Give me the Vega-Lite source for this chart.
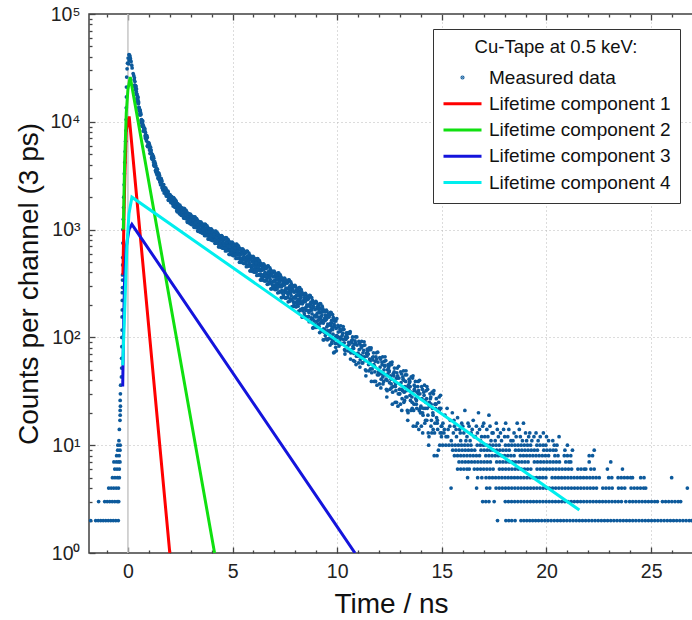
{
"$schema":"https://vega.github.io/schema/vega-lite/v6.json",
"width":604,"height":539,
"autosize":{"type":"none"},
"padding":{"left":89,"top":14,"right":0,"bottom":67},
"background":"white",
"config":{"view":{"stroke":"#404040","strokeWidth":1.5},"font":"Liberation Sans"},
"datasets":{
"pts":[
{"t":-1.78,"c":2},{"t":-1.54,"c":2},{"t":-1.42,"c":2},{"t":-1.3,"c":2},{"t":-1.18,"c":2},{"t":-1.06,"c":2},{"t":-0.94,"c":2},{"t":-0.82,"c":2},{"t":-0.7,"c":2},{"t":-0.58,"c":2},{"t":-0.46,"c":2},
{"t":-1.4,"c":3},{"t":-1.11,"c":3},{"t":-0.99,"c":3},{"t":-0.87,"c":3},{"t":-0.75,"c":3},{"t":-0.63,"c":3},{"t":-0.51,"c":3},{"t":-0.44,"c":3},
{"t":-0.92,"c":4},{"t":-0.8,"c":4},{"t":-0.68,"c":4},{"t":-0.56,"c":4},{"t":-0.45,"c":4},
{"t":-0.74,"c":5},{"t":-0.62,"c":5},{"t":-0.5,"c":5},{"t":-0.41,"c":5},
{"t":-0.63,"c":6},{"t":-0.52,"c":6},{"t":-0.41,"c":6},
{"t":-0.67,"c":7},{"t":-0.55,"c":7},{"t":-0.45,"c":7},{"t":-0.38,"c":7},
{"t":-0.54,"c":8},{"t":-0.42,"c":8},{"t":-0.49,"c":9},{"t":-0.38,"c":9},{"t":-0.48,"c":10},{"t":-0.37,"c":10},
{"t":-0.43,"c":11},{"t":-0.41,"c":14},{"t":-0.38,"c":17},{"t":-0.37,"c":19},{"t":-0.37,"c":21},{"t":-0.36,"c":23},{"t":-0.37,"c":26},{"t":-0.36,"c":30},{"t":-0.35,"c":36},
{"t":-0.31,"c":43},{"t":-0.3,"c":52},{"t":-0.3,"c":64},{"t":-0.29,"c":82},{"t":-0.29,"c":100},{"t":-0.28,"c":117},{"t":-0.28,"c":155},{"t":-0.27,"c":180},{"t":-0.27,"c":220},{"t":-0.27,"c":260},{"t":-0.26,"c":290},{"t":-0.26,"c":340},{"t":-0.26,"c":380},{"t":-0.25,"c":470},{"t":-0.25,"c":550},{"t":-0.24,"c":750},{"t":-0.24,"c":1000},{"t":-0.22,"c":1250},{"t":-0.21,"c":1600},{"t":-0.2,"c":2000},{"t":-0.18,"c":2600},{"t":-0.17,"c":3300},{"t":-0.15,"c":4200},{"t":-0.13,"c":5300},{"t":-0.11,"c":6600},{"t":-0.09,"c":8300},{"t":-0.08,"c":10500},{"t":-0.08,"c":13500},{"t":-0.07,"c":17000},{"t":-0.07,"c":21000},{"t":-0.06,"c":26000},{"t":-0.04,"c":31000},{"t":-0.02,"c":35000},{"t":0.01,"c":39000},{"t":0.05,"c":42000},{"t":0.08,"c":41500},{"t":0.1,"c":40000},{"t":0.06,"c":37000},{"t":0.03,"c":34500},{"t":0.12,"c":38500},
{"t":0.15,"c":36300},{"t":0.2,"c":31600},{"t":0.25,"c":28000},{"t":0.3,"c":24500},{"t":0.35,"c":21700},{"t":0.4,"c":19100},{"t":0.45,"c":16900},{"t":0.5,"c":14800},{"t":0.55,"c":12900},{"t":0.6,"c":11600},{"t":0.65,"c":10500},{"t":0.7,"c":9660},{"t":0.75,"c":8900},{"t":0.8,"c":8220},{"t":0.85,"c":7590},{"t":0.9,"c":7030},{"t":0.95,"c":6460},{"t":1.0,"c":6030},{"t":1.05,"c":5580},{"t":1.1,"c":5160},{"t":1.15,"c":4790},{"t":1.2,"c":4470},{"t":1.25,"c":4170},{"t":1.3,"c":3860},{"t":1.35,"c":3600},{"t":1.4,"c":3390},{"t":1.45,"c":3210},{"t":1.5,"c":3030},{"t":1.55,"c":2870},{"t":1.6,"c":2720},{"t":1.65,"c":2570},{"t":1.7,"c":2450},{"t":1.75,"c":2370},{"t":1.8,"c":2280},{"t":1.85,"c":2200},{"t":1.9,"c":2120},{"t":1.95,"c":2040},{"t":2.0,"c":1960},
{"t":0.18,"c":33500},{"t":0.28,"c":26800},{"t":0.38,"c":20500},{"t":0.48,"c":15900},{"t":0.58,"c":12000},{"t":0.68,"c":10200},{"t":0.78,"c":8400},{"t":0.88,"c":7400},{"t":0.98,"c":6100},{"t":1.08,"c":5450},{"t":1.18,"c":4700},{"t":1.28,"c":4050},{"t":1.38,"c":3520},{"t":1.48,"c":3080},{"t":1.58,"c":2820},{"t":1.68,"c":2480},{"t":1.78,"c":2280},{"t":1.88,"c":2180},{"t":1.98,"c":1930},
{"t":0.32,"c":21860},{"t":0.37,"c":21580},{"t":0.42,"c":17840},{"t":0.47,"c":17120},{"t":0.52,"c":13520},{"t":0.57,"c":12560},{"t":0.62,"c":11660},{"t":0.67,"c":9260},{"t":0.72,"c":9230},{"t":0.77,"c":8780},{"t":0.82,"c":7420},{"t":0.87,"c":7150},{"t":0.92,"c":7180},{"t":0.97,"c":5970},{"t":1.02,"c":6080},{"t":1.07,"c":5100},{"t":1.12,"c":5120},{"t":1.17,"c":4980},{"t":1.22,"c":4230},{"t":1.27,"c":4000},{"t":1.32,"c":3550},{"t":1.37,"c":3690},{"t":1.42,"c":3260},{"t":1.47,"c":3350},{"t":1.52,"c":2850},{"t":1.57,"c":2880},{"t":1.62,"c":2810},{"t":1.67,"c":2330},{"t":1.72,"c":2410},{"t":1.77,"c":2410},{"t":1.82,"c":2120},{"t":1.87,"c":2130},{"t":1.92,"c":2230},{"t":1.97,"c":1940},
{"t":0.335,"c":23590},{"t":0.385,"c":18490},{"t":0.435,"c":18100},{"t":0.485,"c":14740},{"t":0.535,"c":13620},{"t":0.585,"c":12650},{"t":0.635,"c":10350},{"t":0.685,"c":9050},{"t":0.735,"c":9230},{"t":0.785,"c":8300},{"t":0.835,"c":7980},{"t":0.885,"c":6660},{"t":0.935,"c":5940},{"t":0.985,"c":6040},{"t":1.035,"c":6090},{"t":1.085,"c":5310},{"t":1.135,"c":4650},{"t":1.185,"c":4740},{"t":1.235,"c":4600},{"t":1.285,"c":3890},{"t":1.335,"c":3910},{"t":1.385,"c":3220},{"t":1.435,"c":3380},{"t":1.485,"c":2940},{"t":1.535,"c":2930},{"t":1.585,"c":2960},{"t":1.635,"c":2550},{"t":1.685,"c":2330},{"t":1.735,"c":2460},{"t":1.785,"c":2320},{"t":1.835,"c":2330},{"t":1.885,"c":2030},{"t":1.935,"c":1880},{"t":1.985,"c":2010},
{"t":0.31,"c":25560},{"t":0.36,"c":19890},{"t":0.41,"c":20110},{"t":0.46,"c":15320},{"t":0.51,"c":15300},{"t":0.56,"c":11570},{"t":0.61,"c":12100},{"t":0.66,"c":9730},{"t":0.71,"c":10170},{"t":0.76,"c":8160},{"t":0.81,"c":8580},{"t":0.86,"c":6960},{"t":0.91,"c":7400},{"t":0.96,"c":5860},{"t":1.01,"c":6330},{"t":1.06,"c":5080},{"t":1.11,"c":5470},{"t":1.16,"c":4500},{"t":1.21,"c":4780},{"t":1.26,"c":3880},{"t":1.31,"c":4090},{"t":1.36,"c":3350},{"t":1.41,"c":3620},{"t":1.46,"c":2960},{"t":1.51,"c":3180},{"t":1.56,"c":2610},{"t":1.61,"c":2880},{"t":1.66,"c":2420},{"t":1.71,"c":2620},{"t":1.76,"c":2210},{"t":1.81,"c":2420},{"t":1.86,"c":2050},{"t":1.91,"c":2270},{"t":1.96,"c":1880},
{"t":0.33,"c":21080},{"t":0.38,"c":21280},{"t":0.43,"c":16250},{"t":0.48,"c":16730},{"t":0.53,"c":12870},{"t":0.58,"c":12890},{"t":0.63,"c":9980},{"t":0.68,"c":10200},{"t":0.73,"c":8220},{"t":0.78,"c":8730},{"t":0.83,"c":7070},{"t":0.88,"c":7440},{"t":0.93,"c":5980},{"t":0.98,"c":6390},{"t":1.03,"c":5470},{"t":1.08,"c":5820},{"t":1.13,"c":4630},{"t":1.18,"c":4850},{"t":1.23,"c":3970},{"t":1.28,"c":4270},{"t":1.33,"c":3460},{"t":1.38,"c":3680},{"t":1.43,"c":3010},{"t":1.48,"c":3310},{"t":1.53,"c":2750},{"t":1.58,"c":2990},{"t":1.63,"c":2440},{"t":1.68,"c":2600},{"t":1.73,"c":2180},{"t":1.78,"c":2420},{"t":1.83,"c":2050},{"t":1.88,"c":2250},{"t":1.93,"c":1880},{"t":1.98,"c":2110},
{"t":2.05,"c":1924},{"t":2.1,"c":1806},{"t":2.15,"c":1851},{"t":2.2,"c":1745},{"t":2.25,"c":1793},{"t":2.3,"c":1664},{"t":2.35,"c":1553},{"t":2.4,"c":1618},{"t":2.45,"c":1597},{"t":2.5,"c":1473},
{"t":2.55,"c":1482},{"t":2.6,"c":1534},{"t":2.65,"c":1365},{"t":2.7,"c":1413},{"t":2.75,"c":1364},{"t":2.8,"c":1302},{"t":2.85,"c":1369},{"t":2.9,"c":1203},{"t":2.95,"c":1297},{"t":3.0,"c":1220},
{"t":3.05,"c":1233},{"t":3.1,"c":1156},{"t":3.15,"c":1211},{"t":3.2,"c":1143},{"t":3.25,"c":1199},{"t":3.3,"c":1112},{"t":3.35,"c":1037},{"t":3.4,"c":1106},{"t":3.45,"c":1103},{"t":3.5,"c":1017},
{"t":3.55,"c":1033},{"t":3.6,"c":1083},{"t":3.65,"c":950},{"t":3.7,"c":997},{"t":3.75,"c":963},{"t":3.8,"c":920},{"t":3.85,"c":982},{"t":3.9,"c":850},{"t":3.95,"c":936},{"t":4.0,"c":877},
{"t":4.05,"c":892},{"t":4.1,"c":832},{"t":4.15,"c":882},{"t":4.2,"c":828},{"t":4.25,"c":880},{"t":4.3,"c":810},{"t":4.35,"c":750},{"t":4.4,"c":812},{"t":4.45,"c":814},{"t":4.5,"c":744},
{"t":4.55,"c":760},{"t":4.6,"c":807},{"t":4.65,"c":693},{"t":4.7,"c":738},{"t":4.75,"c":711},{"t":4.8,"c":675},{"t":4.85,"c":732},{"t":4.9,"c":620},{"t":4.95,"c":696},{"t":5.0,"c":648},
{"t":5.05,"c":663},{"t":5.1,"c":611},{"t":5.15,"c":658},{"t":5.2,"c":612},{"t":5.25,"c":660},{"t":5.3,"c":599},{"t":5.35,"c":548},{"t":5.4,"c":605},{"t":5.45,"c":608},{"t":5.5,"c":548},
{"t":5.55,"c":562},{"t":5.6,"c":601},{"t":5.65,"c":505},{"t":5.7,"c":542},{"t":5.75,"c":519},{"t":5.8,"c":489},{"t":5.85,"c":536},{"t":5.9,"c":442},{"t":5.95,"c":506},{"t":6.0,"c":465},
{"t":6.05,"c":479},{"t":6.1,"c":435},{"t":6.15,"c":475},{"t":6.2,"c":437},{"t":6.25,"c":477},{"t":6.3,"c":427},{"t":6.35,"c":384},{"t":6.4,"c":432},{"t":6.45,"c":435},{"t":6.5,"c":385},
{"t":6.55,"c":398},{"t":6.6,"c":434},{"t":6.65,"c":354},{"t":6.7,"c":386},{"t":6.75,"c":369},{"t":6.8,"c":344},{"t":6.85,"c":387},{"t":6.9,"c":307},{"t":6.95,"c":364},{"t":7.0,"c":330},
{"t":7.05,"c":342},{"t":7.1,"c":308},{"t":7.15,"c":343},{"t":7.2,"c":312},{"t":7.25,"c":347},{"t":7.3,"c":306},{"t":7.35,"c":271},{"t":7.4,"c":313},{"t":7.45,"c":316},{"t":7.5,"c":275},
{"t":7.55,"c":287},{"t":7.6,"c":318},{"t":7.65,"c":251},{"t":7.7,"c":279},{"t":7.75,"c":265},{"t":7.8,"c":244},{"t":7.85,"c":281},{"t":7.9,"c":215},{"t":7.95,"c":263},{"t":8.0,"c":235},
{"t":8.05,"c":245},{"t":8.1,"c":216},{"t":8.15,"c":245},{"t":8.2,"c":220},{"t":8.25,"c":249},{"t":8.3,"c":214},{"t":8.35,"c":186},{"t":8.4,"c":221},{"t":8.45,"c":224},{"t":8.5,"c":190},
{"t":8.55,"c":200},{"t":8.6,"c":225},{"t":8.65,"c":170},{"t":8.7,"c":193},{"t":8.75,"c":182},{"t":8.8,"c":165},{"t":8.85,"c":196},{"t":8.9,"c":142},{"t":8.95,"c":181},{"t":9.0,"c":160},
{"t":9.05,"c":168},{"t":9.1,"c":145},{"t":9.15,"c":169},{"t":9.2,"c":148},{"t":9.25,"c":172},{"t":9.3,"c":144},{"t":9.35,"c":120},{"t":9.4,"c":150},{"t":9.45,"c":153},{"t":9.5,"c":125},
{"t":9.55,"c":133},{"t":9.6,"c":154},{"t":9.65,"c":110},{"t":9.7,"c":129},{"t":9.75,"c":121},{"t":9.8,"c":107},{"t":9.85,"c":133},{"t":9.9,"c":88},{"t":9.95,"c":121},{"t":10.0,"c":103},
{"t":10.05,"c":112},{"t":10.1,"c":93},{"t":10.15,"c":114},{"t":10.2,"c":97},{"t":10.25,"c":118},{"t":10.3,"c":96},{"t":10.35,"c":77},{"t":10.4,"c":101},{"t":10.45,"c":105},{"t":10.5,"c":83},
{"t":10.55,"c":90},{"t":10.6,"c":109},{"t":10.65,"c":72},{"t":10.7,"c":89},{"t":10.75,"c":82},{"t":10.8,"c":71},{"t":10.85,"c":93},{"t":10.9,"c":56},{"t":10.95,"c":85},{"t":11.0,"c":71},
{"t":11.05,"c":77},{"t":11.1,"c":62},{"t":11.15,"c":80},{"t":11.2,"c":66},{"t":11.25,"c":84},{"t":11.3,"c":66},{"t":11.35,"c":50},{"t":11.4,"c":71},{"t":11.45,"c":74},{"t":11.5,"c":56},
{"t":11.55,"c":63},{"t":11.6,"c":77},{"t":11.65,"c":47},{"t":11.7,"c":62},{"t":11.75,"c":56},{"t":11.8,"c":48},{"t":11.85,"c":66},{"t":11.9,"c":36},{"t":11.95,"c":59},{"t":12.0,"c":47},
{"t":12.05,"c":53},{"t":12.1,"c":41},{"t":12.15,"c":56},{"t":12.2,"c":46},{"t":12.25,"c":60},{"t":12.3,"c":45},{"t":12.35,"c":33},{"t":12.4,"c":50},{"t":12.45,"c":52},{"t":12.5,"c":38},
{"t":12.55,"c":44},{"t":12.6,"c":56},{"t":12.65,"c":31},{"t":12.7,"c":44},{"t":12.75,"c":39},{"t":12.8,"c":32},{"t":12.85,"c":47},{"t":12.9,"c":23},{"t":12.95,"c":42},{"t":13.0,"c":33},
{"t":13.05,"c":38},{"t":13.1,"c":27},{"t":13.15,"c":41},{"t":13.2,"c":31},{"t":13.25,"c":45},{"t":13.3,"c":32},{"t":13.35,"c":21},{"t":13.4,"c":36},{"t":13.45,"c":38},{"t":13.5,"c":26},
{"t":13.55,"c":31},{"t":13.6,"c":42},{"t":13.65,"c":21},{"t":13.7,"c":32},{"t":13.75,"c":27},{"t":13.8,"c":22},{"t":13.85,"c":35},{"t":13.9,"c":14},{"t":13.95,"c":30},{"t":14.0,"c":23},
{"t":14.05,"c":27},{"t":14.1,"c":19},{"t":14.15,"c":29},{"t":14.2,"c":22},{"t":14.25,"c":32},{"t":14.3,"c":22},{"t":14.35,"c":13},{"t":14.4,"c":25},{"t":14.45,"c":27},{"t":14.5,"c":17},
{"t":14.55,"c":22},{"t":14.6,"c":30},{"t":14.65,"c":13},{"t":14.7,"c":22},{"t":14.75,"c":18},{"t":14.8,"c":14},{"t":14.85,"c":25},{"t":14.9,"c":10},{"t":14.95,"c":22},{"t":15.0,"c":15},
{"t":2.02,"c":1868},{"t":2.07,"c":1980},{"t":2.12,"c":1835},{"t":2.17,"c":1913},{"t":2.22,"c":1706},{"t":2.27,"c":1757},{"t":2.32,"c":1762},{"t":2.37,"c":1522},{"t":2.42,"c":1597},{"t":2.47,"c":1607},
{"t":2.52,"c":1439},{"t":2.57,"c":1467},{"t":2.62,"c":1551},{"t":2.67,"c":1384},{"t":2.72,"c":1436},{"t":2.77,"c":1278},{"t":2.82,"c":1361},{"t":2.87,"c":1402},{"t":2.92,"c":1246},{"t":2.97,"c":1240},
{"t":3.02,"c":1167},{"t":3.07,"c":1279},{"t":3.12,"c":1180},{"t":3.17,"c":1261},{"t":3.22,"c":1111},{"t":3.27,"c":1170},{"t":3.32,"c":1191},{"t":3.37,"c":1013},{"t":3.42,"c":1089},{"t":3.47,"c":1111},
{"t":3.52,"c":989},{"t":3.57,"c":1020},{"t":3.62,"c":1097},{"t":3.67,"c":967},{"t":3.72,"c":1016},{"t":3.77,"c":893},{"t":3.82,"c":969},{"t":3.87,"c":1009},{"t":3.92,"c":887},{"t":3.97,"c":888},
{"t":4.02,"c":833},{"t":4.07,"c":930},{"t":4.12,"c":852},{"t":4.17,"c":923},{"t":4.22,"c":802},{"t":4.27,"c":855},{"t":4.32,"c":877},{"t":4.37,"c":730},{"t":4.42,"c":798},{"t":4.47,"c":820},
{"t":4.52,"c":720},{"t":4.57,"c":749},{"t":4.62,"c":818},{"t":4.67,"c":708},{"t":4.72,"c":754},{"t":4.77,"c":650},{"t":4.82,"c":717},{"t":4.87,"c":755},{"t":4.92,"c":652},{"t":4.97,"c":655},
{"t":5.02,"c":610},{"t":5.07,"c":696},{"t":5.12,"c":629},{"t":5.17,"c":693},{"t":5.22,"c":589},{"t":5.27,"c":637},{"t":5.32,"c":657},{"t":5.37,"c":532},{"t":5.42,"c":592},{"t":5.47,"c":613},
{"t":5.52,"c":528},{"t":5.57,"c":552},{"t":5.62,"c":612},{"t":5.67,"c":517},{"t":5.72,"c":556},{"t":5.77,"c":467},{"t":5.82,"c":524},{"t":5.87,"c":556},{"t":5.92,"c":469},{"t":5.97,"c":471},
{"t":6.02,"c":433},{"t":6.07,"c":507},{"t":6.12,"c":450},{"t":6.17,"c":505},{"t":6.22,"c":418},{"t":6.27,"c":458},{"t":6.32,"c":476},{"t":6.37,"c":370},{"t":6.42,"c":421},{"t":6.47,"c":439},
{"t":6.52,"c":368},{"t":6.57,"c":390},{"t":6.62,"c":442},{"t":6.67,"c":365},{"t":6.72,"c":398},{"t":6.77,"c":325},{"t":6.82,"c":375},{"t":6.87,"c":403},{"t":6.92,"c":330},{"t":6.97,"c":335},
{"t":7.02,"c":303},{"t":7.07,"c":366},{"t":7.12,"c":320},{"t":7.17,"c":368},{"t":7.22,"c":295},{"t":7.27,"c":331},{"t":7.32,"c":347},{"t":7.37,"c":259},{"t":7.42,"c":304},{"t":7.47,"c":320},
{"t":7.52,"c":261},{"t":7.57,"c":280},{"t":7.62,"c":325},{"t":7.67,"c":260},{"t":7.72,"c":289},{"t":7.77,"c":228},{"t":7.82,"c":270},{"t":7.87,"c":295},{"t":7.92,"c":234},{"t":7.97,"c":238},
{"t":8.02,"c":212},{"t":8.07,"c":265},{"t":8.12,"c":227},{"t":8.17,"c":267},{"t":8.22,"c":206},{"t":8.27,"c":235},{"t":8.32,"c":249},{"t":8.37,"c":176},{"t":8.42,"c":213},{"t":8.47,"c":227},
{"t":8.52,"c":178},{"t":8.57,"c":194},{"t":8.62,"c":230},{"t":8.67,"c":177},{"t":8.72,"c":202},{"t":8.77,"c":152},{"t":8.82,"c":187},{"t":8.87,"c":208},{"t":8.92,"c":158},{"t":8.97,"c":161},
{"t":9.02,"c":141},{"t":9.07,"c":185},{"t":9.12,"c":154},{"t":9.17,"c":186},{"t":9.22,"c":137},{"t":9.27,"c":161},{"t":9.32,"c":173},{"t":9.37,"c":112},{"t":9.42,"c":143},{"t":9.47,"c":155},
{"t":9.52,"c":115},{"t":9.57,"c":129},{"t":9.62,"c":159},{"t":9.67,"c":116},{"t":9.72,"c":136},{"t":9.77,"c":96},{"t":9.82,"c":125},{"t":9.87,"c":142},{"t":9.92,"c":101},{"t":9.97,"c":104},
{"t":10.02,"c":88},{"t":10.07,"c":125},{"t":10.12,"c":100},{"t":10.17,"c":128},{"t":10.22,"c":88},{"t":10.27,"c":109},{"t":10.32,"c":119},{"t":10.37,"c":70},{"t":10.42,"c":96},{"t":10.47,"c":107},
{"t":10.52,"c":75},{"t":10.57,"c":86},{"t":10.62,"c":113},{"t":10.67,"c":77},{"t":10.72,"c":95},{"t":10.77,"c":61},{"t":10.82,"c":86},{"t":10.87,"c":101},{"t":10.92,"c":67},{"t":10.97,"c":71},
{"t":11.02,"c":58},{"t":11.07,"c":88},{"t":11.12,"c":68},{"t":11.17,"c":92},{"t":11.22,"c":58},{"t":11.27,"c":76},{"t":11.32,"c":85},{"t":11.37,"c":44},{"t":11.42,"c":67},{"t":11.47,"c":76},
{"t":11.52,"c":49},{"t":11.57,"c":60},{"t":11.62,"c":80},{"t":11.67,"c":51},{"t":11.72,"c":66},{"t":11.77,"c":39},{"t":11.82,"c":60},{"t":11.87,"c":72},{"t":11.92,"c":45},{"t":11.97,"c":48},
{"t":12.02,"c":37},{"t":12.07,"c":63},{"t":12.12,"c":46},{"t":12.17,"c":66},{"t":12.22,"c":39},{"t":12.27,"c":54},{"t":12.32,"c":61},{"t":12.37,"c":28},{"t":12.42,"c":46},{"t":12.47,"c":54},
{"t":12.52,"c":33},{"t":12.57,"c":41},{"t":12.62,"c":59},{"t":12.67,"c":35},{"t":12.72,"c":48},{"t":12.77,"c":25},{"t":12.82,"c":42},{"t":12.87,"c":52},{"t":12.92,"c":30},{"t":12.97,"c":33},
{"t":13.02,"c":24},{"t":13.07,"c":46},{"t":13.12,"c":32},{"t":13.17,"c":49},{"t":13.22,"c":26},{"t":13.27,"c":39},{"t":13.32,"c":45},{"t":13.37,"c":17},{"t":13.42,"c":33},{"t":13.47,"c":39},
{"t":13.52,"c":21},{"t":13.57,"c":28},{"t":13.62,"c":44},{"t":13.67,"c":24},{"t":13.72,"c":35},{"t":13.77,"c":15},{"t":13.82,"c":31},{"t":13.87,"c":39},{"t":13.92,"c":21},{"t":13.97,"c":22},
{"t":14.02,"c":15},{"t":14.07,"c":33},{"t":14.12,"c":22},{"t":14.17,"c":36},{"t":14.22,"c":17},{"t":14.27,"c":27},{"t":14.32,"c":33},{"t":14.37,"c":10},{"t":14.42,"c":23},{"t":14.47,"c":28},
{"t":14.52,"c":13},{"t":14.57,"c":20},{"t":14.62,"c":32},{"t":14.67,"c":16},{"t":14.72,"c":24},{"t":14.77,"c":8},{"t":14.82,"c":21},{"t":14.87,"c":28},{"t":14.92,"c":13},{"t":14.97,"c":15},
{"t":2.035,"c":2040},{"t":2.085,"c":1804},{"t":2.135,"c":1915},{"t":2.185,"c":1741},{"t":2.235,"c":1773},{"t":2.285,"c":1828},{"t":2.335,"c":1636},{"t":2.385,"c":1543},{"t":2.435,"c":1656},{"t":2.485,"c":1577},
{"t":2.535,"c":1590},{"t":2.585,"c":1422},{"t":2.635,"c":1345},{"t":2.685,"c":1452},{"t":2.735,"c":1463},{"t":2.785,"c":1353},{"t":2.835,"c":1256},{"t":2.885,"c":1354},{"t":2.935,"c":1385},{"t":2.985,"c":1225},
{"t":3.035,"c":1307},{"t":3.085,"c":1136},{"t":3.135,"c":1244},{"t":3.185,"c":1121},{"t":3.235,"c":1166},{"t":3.285,"c":1227},{"t":3.335,"c":1089},{"t":3.385,"c":1030},{"t":3.435,"c":1136},{"t":3.485,"c":1087},
{"t":3.535,"c":1113},{"t":3.585,"c":982},{"t":3.635,"c":926},{"t":3.685,"c":1023},{"t":3.735,"c":1038},{"t":3.785,"c":955},{"t":3.835,"c":882},{"t":3.885,"c":969},{"t":3.935,"c":1002},{"t":3.985,"c":876},
{"t":4.035,"c":950},{"t":4.085,"c":811},{"t":4.135,"c":906},{"t":4.185,"c":807},{"t":4.235,"c":848},{"t":4.285,"c":903},{"t":4.335,"c":791},{"t":4.385,"c":744},{"t":4.435,"c":838},{"t":4.485,"c":800},
{"t":4.535,"c":826},{"t":4.585,"c":717},{"t":4.635,"c":672},{"t":4.685,"c":756},{"t":4.735,"c":773},{"t":4.785,"c":703},{"t":4.835,"c":643},{"t":4.885,"c":721},{"t":4.935,"c":750},{"t":4.985,"c":645},
{"t":5.035,"c":711},{"t":5.085,"c":592},{"t":5.135,"c":676},{"t":5.185,"c":592},{"t":5.235,"c":629},{"t":5.285,"c":679},{"t":5.335,"c":583},{"t":5.385,"c":544},{"t":5.435,"c":627},{"t":5.485,"c":595},
{"t":5.535,"c":619},{"t":5.585,"c":525},{"t":5.635,"c":486},{"t":5.685,"c":558},{"t":5.735,"c":572},{"t":5.785,"c":513},{"t":5.835,"c":461},{"t":5.885,"c":527},{"t":5.935,"c":553},{"t":5.985,"c":462},
{"t":6.035,"c":519},{"t":6.085,"c":419},{"t":6.135,"c":490},{"t":6.185,"c":419},{"t":6.235,"c":451},{"t":6.285,"c":493},{"t":6.335,"c":413},{"t":6.385,"c":380},{"t":6.435,"c":450},{"t":6.485,"c":425},
{"t":6.535,"c":445},{"t":6.585,"c":367},{"t":6.635,"c":336},{"t":6.685,"c":399},{"t":6.735,"c":412},{"t":6.785,"c":363},{"t":6.835,"c":321},{"t":6.885,"c":378},{"t":6.935,"c":401},{"t":6.985,"c":327},
{"t":7.035,"c":376},{"t":7.085,"c":292},{"t":7.135,"c":354},{"t":7.185,"c":296},{"t":7.235,"c":324},{"t":7.285,"c":361},{"t":7.335,"c":294},{"t":7.385,"c":268},{"t":7.435,"c":328},{"t":7.485,"c":307},
{"t":7.535,"c":326},{"t":7.585,"c":261},{"t":7.635,"c":235},{"t":7.685,"c":289},{"t":7.735,"c":300},{"t":7.785,"c":260},{"t":7.835,"c":225},{"t":7.885,"c":274},{"t":7.935,"c":295},{"t":7.985,"c":231},
{"t":8.035,"c":273},{"t":8.085,"c":203},{"t":8.135,"c":255},{"t":8.185,"c":206},{"t":8.235,"c":230},{"t":8.285,"c":260},{"t":8.335,"c":205},{"t":8.385,"c":183},{"t":8.435,"c":234},{"t":8.485,"c":216},
{"t":8.535,"c":232},{"t":8.585,"c":178},{"t":8.635,"c":156},{"t":8.685,"c":202},{"t":8.735,"c":211},{"t":8.785,"c":179},{"t":8.835,"c":149},{"t":8.885,"c":191},{"t":8.935,"c":208},{"t":8.985,"c":155},
{"t":9.035,"c":191},{"t":9.085,"c":133},{"t":9.135,"c":177},{"t":9.185,"c":136},{"t":9.235,"c":156},{"t":9.285,"c":182},{"t":9.335,"c":136},{"t":9.385,"c":118},{"t":9.435,"c":161},{"t":9.485,"c":147},
{"t":9.535,"c":159},{"t":9.585,"c":115},{"t":9.635,"c":98},{"t":9.685,"c":136},{"t":9.735,"c":144},{"t":9.785,"c":118},{"t":9.835,"c":94},{"t":9.885,"c":128},{"t":9.935,"c":142},{"t":9.985,"c":100},
{"t":10.035,"c":129},{"t":10.085,"c":83},{"t":10.135,"c":119},{"t":10.185,"c":87},{"t":10.235,"c":104},{"t":10.285,"c":126},{"t":10.335,"c":89},{"t":10.385,"c":75},{"t":10.435,"c":110},{"t":10.485,"c":100},
{"t":10.535,"c":111},{"t":10.585,"c":75},{"t":10.635,"c":63},{"t":10.685,"c":93},{"t":10.735,"c":101},{"t":10.785,"c":79},{"t":10.835,"c":60},{"t":10.885,"c":89},{"t":10.935,"c":101},{"t":10.985,"c":67},
{"t":11.035,"c":92},{"t":11.085,"c":53},{"t":11.135,"c":84},{"t":11.185,"c":58},{"t":11.235,"c":72},{"t":11.285,"c":91},{"t":11.335,"c":61},{"t":11.385,"c":49},{"t":11.435,"c":78},{"t":11.485,"c":70},
{"t":11.535,"c":80},{"t":11.585,"c":51},{"t":11.635,"c":39},{"t":11.685,"c":65},{"t":11.735,"c":72},{"t":11.785,"c":54},{"t":11.835,"c":39},{"t":11.885,"c":63},{"t":11.935,"c":73},{"t":11.985,"c":45},
{"t":12.035,"c":65},{"t":12.085,"c":34},{"t":12.135,"c":59},{"t":12.185,"c":37},{"t":12.235,"c":50},{"t":12.285,"c":66},{"t":12.335,"c":41},{"t":12.385,"c":32},{"t":12.435,"c":56},{"t":12.485,"c":49},
{"t":12.535,"c":58},{"t":12.585,"c":34},{"t":12.635,"c":24},{"t":12.685,"c":46},{"t":12.735,"c":52},{"t":12.785,"c":37},{"t":12.835,"c":25},{"t":12.885,"c":44},{"t":12.935,"c":54},{"t":12.985,"c":30},
{"t":13.035,"c":48},{"t":13.085,"c":21},{"t":13.135,"c":43},{"t":13.185,"c":25},{"t":13.235,"c":35},{"t":13.285,"c":49},{"t":13.335,"c":28},{"t":13.385,"c":20},{"t":13.435,"c":41},{"t":13.485,"c":35},
{"t":13.535,"c":43},{"t":13.585,"c":22},{"t":13.635,"c":15},{"t":13.685,"c":33},{"t":13.735,"c":39},{"t":13.785,"c":26},{"t":13.835,"c":16},{"t":13.885,"c":32},{"t":13.935,"c":40},{"t":13.985,"c":20},
{"t":14.035,"c":35},{"t":14.085,"c":13},{"t":14.135,"c":31},{"t":14.185,"c":16},{"t":14.235,"c":25},{"t":14.285,"c":35},{"t":14.335,"c":19},{"t":14.385,"c":12},{"t":14.435,"c":30},{"t":14.485,"c":24},
{"t":14.535,"c":31},{"t":14.585,"c":14},{"t":14.635,"c":8},{"t":14.685,"c":24},{"t":14.735,"c":27},{"t":14.785,"c":17},{"t":14.835,"c":9},{"t":14.885,"c":22},{"t":14.935,"c":29},{"t":14.985,"c":13},
{"t":2.01,"c":2107},{"t":2.06,"c":1775},{"t":2.11,"c":1982},{"t":2.16,"c":1652},{"t":2.21,"c":1941},{"t":2.26,"c":1606},{"t":2.31,"c":1804},{"t":2.36,"c":1463},{"t":2.41,"c":1698},{"t":2.46,"c":1405},
{"t":2.51,"c":1638},{"t":2.56,"c":1358},{"t":2.61,"c":1559},{"t":2.66,"c":1279},{"t":2.71,"c":1553},{"t":2.76,"c":1267},{"t":2.81,"c":1458},{"t":2.86,"c":1166},{"t":2.91,"c":1389},{"t":2.96,"c":1138},
{"t":3.01,"c":1361},{"t":3.06,"c":1112},{"t":3.11,"c":1299},{"t":3.16,"c":1050},{"t":3.21,"c":1302},{"t":3.26,"c":1047},{"t":3.31,"c":1225},{"t":3.36,"c":965},{"t":3.41,"c":1170},{"t":3.46,"c":947},
{"t":3.51,"c":1154},{"t":3.56,"c":930},{"t":3.61,"c":1103},{"t":3.66,"c":880},{"t":3.71,"c":1112},{"t":3.76,"c":883},{"t":3.81,"c":1049},{"t":3.86,"c":814},{"t":3.91,"c":1005},{"t":3.96,"c":805},
{"t":4.01,"c":996},{"t":4.06,"c":791},{"t":4.11,"c":952},{"t":4.16,"c":747},{"t":4.21,"c":962},{"t":4.26,"c":752},{"t":4.31,"c":905},{"t":4.36,"c":690},{"t":4.41,"c":866},{"t":4.46,"c":683},
{"t":4.51,"c":861},{"t":4.56,"c":672},{"t":4.61,"c":823},{"t":4.66,"c":634},{"t":4.71,"c":836},{"t":4.76,"c":642},{"t":4.81,"c":786},{"t":4.86,"c":588},{"t":4.91,"c":753},{"t":4.96,"c":584},
{"t":5.01,"c":750},{"t":5.06,"c":575},{"t":5.11,"c":716},{"t":5.16,"c":540},{"t":5.21,"c":728},{"t":5.26,"c":548},{"t":5.31,"c":682},{"t":5.36,"c":497},{"t":5.41,"c":651},{"t":5.46,"c":494},
{"t":5.51,"c":649},{"t":5.56,"c":486},{"t":5.61,"c":616},{"t":5.66,"c":453},{"t":5.71,"c":627},{"t":5.76,"c":460},{"t":5.81,"c":584},{"t":5.86,"c":413},{"t":5.91,"c":555},{"t":5.96,"c":409},
{"t":6.01,"c":552},{"t":6.06,"c":404},{"t":6.11,"c":524},{"t":6.16,"c":376},{"t":6.21,"c":535},{"t":6.26,"c":383},{"t":6.31,"c":497},{"t":6.36,"c":340},{"t":6.41,"c":471},{"t":6.46,"c":339},
{"t":6.51,"c":470},{"t":6.56,"c":335},{"t":6.61,"c":446},{"t":6.66,"c":311},{"t":6.71,"c":458},{"t":6.76,"c":319},{"t":6.81,"c":425},{"t":6.86,"c":282},{"t":6.91,"c":403},{"t":6.96,"c":283},
{"t":7.01,"c":404},{"t":7.06,"c":279},{"t":7.11,"c":382},{"t":7.16,"c":259},{"t":7.21,"c":394},{"t":7.26,"c":267},{"t":7.31,"c":365},{"t":7.36,"c":234},{"t":7.41,"c":346},{"t":7.46,"c":235},
{"t":7.51,"c":347},{"t":7.56,"c":233},{"t":7.61,"c":328},{"t":7.66,"c":214},{"t":7.71,"c":339},{"t":7.76,"c":223},{"t":7.81,"c":313},{"t":7.86,"c":193},{"t":7.91,"c":296},{"t":7.96,"c":194},
{"t":8.01,"c":297},{"t":8.06,"c":193},{"t":8.11,"c":279},{"t":8.16,"c":175},{"t":8.21,"c":289},{"t":8.26,"c":182},{"t":8.31,"c":264},{"t":8.36,"c":155},{"t":8.41,"c":248},{"t":8.46,"c":156},
{"t":8.51,"c":249},{"t":8.56,"c":155},{"t":8.61,"c":233},{"t":8.66,"c":140},{"t":8.71,"c":244},{"t":8.76,"c":148},{"t":8.81,"c":222},{"t":8.86,"c":123},{"t":8.91,"c":209},{"t":8.96,"c":124},
{"t":9.01,"c":211},{"t":9.06,"c":125},{"t":9.11,"c":196},{"t":9.16,"c":111},{"t":9.21,"c":205},{"t":9.26,"c":117},{"t":9.31,"c":185},{"t":9.36,"c":95},{"t":9.41,"c":173},{"t":9.46,"c":97},
{"t":9.51,"c":174},{"t":9.56,"c":97},{"t":9.61,"c":161},{"t":9.66,"c":85},{"t":9.71,"c":170},{"t":9.76,"c":92},{"t":9.81,"c":153},{"t":9.86,"c":73},{"t":9.91,"c":143},{"t":9.96,"c":75},
{"t":2.03,"c":1809},{"t":2.08,"c":2035},{"t":2.13,"c":1742},{"t":2.18,"c":1980},{"t":2.23,"c":1626},{"t":2.28,"c":1874},{"t":2.33,"c":1493},{"t":2.38,"c":1744},{"t":2.43,"c":1463},{"t":2.48,"c":1691},
{"t":2.53,"c":1372},{"t":2.58,"c":1591},{"t":2.63,"c":1345},{"t":2.68,"c":1572},{"t":2.73,"c":1271},{"t":2.78,"c":1507},{"t":2.83,"c":1181},{"t":2.88,"c":1417},{"t":2.93,"c":1178},{"t":2.98,"c":1394},
{"t":3.03,"c":1120},{"t":3.08,"c":1323},{"t":3.13,"c":1105},{"t":3.18,"c":1315},{"t":3.23,"c":1047},{"t":3.28,"c":1265},{"t":3.33,"c":974},{"t":3.38,"c":1193},{"t":3.43,"c":980},{"t":3.48,"c":1179},
{"t":3.53,"c":933},{"t":3.58,"c":1122},{"t":3.63,"c":926},{"t":3.68,"c":1122},{"t":3.73,"c":880},{"t":3.78,"c":1082},{"t":3.83,"c":820},{"t":3.88,"c":1022},{"t":3.93,"c":831},{"t":3.98,"c":1015},
{"t":4.03,"c":793},{"t":4.08,"c":968},{"t":4.13,"c":789},{"t":4.18,"c":969},{"t":4.23,"c":748},{"t":4.28,"c":934},{"t":4.33,"c":694},{"t":4.38,"c":881},{"t":4.43,"c":706},{"t":4.48,"c":877},
{"t":4.53,"c":673},{"t":4.58,"c":837},{"t":4.63,"c":672},{"t":4.68,"c":841},{"t":4.73,"c":638},{"t":4.78,"c":812},{"t":4.83,"c":590},{"t":4.88,"c":766},{"t":4.93,"c":604},{"t":4.98,"c":764},
{"t":5.03,"c":575},{"t":5.08,"c":728},{"t":5.13,"c":575},{"t":5.18,"c":733},{"t":5.23,"c":542},{"t":5.28,"c":706},{"t":5.33,"c":499},{"t":5.38,"c":663},{"t":5.43,"c":513},{"t":5.48,"c":662},
{"t":5.53,"c":487},{"t":5.58,"c":627},{"t":5.63,"c":486},{"t":5.68,"c":631},{"t":5.73,"c":456},{"t":5.78,"c":606},{"t":5.83,"c":415},{"t":5.88,"c":566},{"t":5.93,"c":428},{"t":5.98,"c":565},
{"t":6.03,"c":404},{"t":6.08,"c":534},{"t":6.13,"c":404},{"t":6.18,"c":539},{"t":6.23,"c":378},{"t":6.28,"c":516},{"t":6.33,"c":342},{"t":6.38,"c":480},{"t":6.43,"c":354},{"t":6.48,"c":481},
{"t":6.53,"c":334},{"t":6.58,"c":454},{"t":6.63,"c":336},{"t":6.68,"c":461},{"t":6.73,"c":314},{"t":6.78,"c":442},{"t":6.83,"c":282},{"t":6.88,"c":411},{"t":6.93,"c":295},{"t":6.98,"c":413},
{"t":7.03,"c":278},{"t":7.08,"c":389},{"t":7.13,"c":281},{"t":7.18,"c":397},{"t":7.23,"c":262},{"t":7.28,"c":380},{"t":7.33,"c":234},{"t":7.38,"c":353},{"t":7.43,"c":247},{"t":7.48,"c":355},
{"t":7.53,"c":231},{"t":7.58,"c":334},{"t":7.63,"c":235},{"t":7.68,"c":341},{"t":7.73,"c":217},{"t":7.78,"c":327},{"t":7.83,"c":192},{"t":7.88,"c":302},{"t":7.93,"c":205},{"t":7.98,"c":304},
{"t":8.03,"c":192},{"t":8.08,"c":284},{"t":8.13,"c":195},{"t":8.18,"c":290},{"t":8.23,"c":178},{"t":8.28,"c":277},{"t":8.33,"c":154},{"t":8.38,"c":254},{"t":8.43,"c":166},{"t":8.48,"c":256},
{"t":8.53,"c":153},{"t":8.58,"c":239},{"t":8.63,"c":156},{"t":8.68,"c":245},{"t":8.73,"c":142},{"t":8.78,"c":234},{"t":8.83,"c":122},{"t":8.88,"c":213},{"t":8.93,"c":133},{"t":8.98,"c":216},
{"t":9.03,"c":124},{"t":9.08,"c":201},{"t":9.13,"c":127},{"t":9.18,"c":206},{"t":9.23,"c":114},{"t":9.28,"c":195},{"t":9.33,"c":95},{"t":9.38,"c":177},{"t":9.43,"c":104},{"t":9.48,"c":179},
{"t":9.53,"c":95},{"t":9.58,"c":165},{"t":9.63,"c":98},{"t":9.68,"c":171},{"t":9.73,"c":88},{"t":9.78,"c":163},{"t":9.83,"c":72},{"t":9.88,"c":147},{"t":9.93,"c":81},{"t":9.98,"c":149},
{"t":12.08,"c":47},{"t":12.18,"c":43},{"t":12.28,"c":55},{"t":12.38,"c":40},{"t":12.48,"c":48},{"t":12.58,"c":37},{"t":12.68,"c":46},{"t":12.78,"c":35},{"t":12.88,"c":42},{"t":12.98,"c":30},
{"t":13.08,"c":33},{"t":13.18,"c":40},{"t":13.28,"c":28},{"t":13.38,"c":35},{"t":13.48,"c":29},{"t":13.58,"c":25},{"t":13.68,"c":36},{"t":13.78,"c":24},{"t":13.88,"c":30},{"t":13.98,"c":20},
{"t":14.08,"c":20},{"t":14.18,"c":26},{"t":14.28,"c":17},{"t":14.38,"c":24},{"t":14.48,"c":15},{"t":14.58,"c":19},{"t":14.68,"c":24},{"t":14.78,"c":16},{"t":14.88,"c":21},{"t":14.98,"c":12},
{"t":15.05,"c":16},{"t":15.1,"c":13},{"t":15.15,"c":19},{"t":15.2,"c":12},{"t":15.25,"c":22},{"t":15.3,"c":14},{"t":15.4,"c":17},{"t":15.45,"c":11},{"t":15.5,"c":20},{"t":15.55,"c":13},{"t":15.6,"c":15},{"t":15.7,"c":12},{"t":15.75,"c":18},{"t":15.85,"c":14},{"t":15.9,"c":11},{"t":15.95,"c":16},{"t":16.05,"c":13},{"t":16.1,"c":21},{"t":16.2,"c":12},{"t":16.3,"c":15},{"t":16.35,"c":11},{"t":16.45,"c":14},{"t":16.5,"c":17},{"t":16.6,"c":12},{"t":16.7,"c":13},{"t":16.75,"c":20},{"t":16.85,"c":11},{"t":16.95,"c":15},{"t":17.05,"c":12},{"t":17.15,"c":14},{"t":17.25,"c":19},{"t":17.35,"c":11},{"t":17.45,"c":13},{"t":17.6,"c":16},{"t":17.7,"c":12},{"t":17.85,"c":11},{"t":17.95,"c":14},{"t":18.05,"c":16},{"t":18.15,"c":12},{"t":18.3,"c":11},{"t":18.45,"c":13},{"t":18.6,"c":16},{"t":18.75,"c":12},{"t":18.9,"c":16},{"t":19.05,"c":11},{"t":19.2,"c":13},{"t":19.4,"c":12},{"t":19.6,"c":11},{"t":19.85,"c":13},{"t":20.1,"c":11},
{"t":15.12,"c":14},{"t":15.28,"c":12},{"t":15.38,"c":15},{"t":15.58,"c":17},{"t":15.68,"c":14},{"t":15.88,"c":13},{"t":16.0,"c":15},{"t":16.15,"c":11},{"t":16.25,"c":16},{"t":16.4,"c":13},{"t":16.55,"c":12},{"t":16.65,"c":15},{"t":16.8,"c":14},{"t":16.9,"c":12},{"t":17.0,"c":16},{"t":17.2,"c":12},{"t":17.3,"c":15},{"t":17.4,"c":13},{"t":17.55,"c":11},{"t":17.65,"c":14},{"t":17.8,"c":13},{"t":18.0,"c":12},{"t":18.2,"c":14},{"t":18.4,"c":11},{"t":18.55,"c":12},{"t":18.7,"c":14},{"t":18.85,"c":11},{"t":19.0,"c":13},{"t":19.15,"c":12},{"t":19.3,"c":11},{"t":19.5,"c":13},{"t":19.7,"c":12},{"t":20.0,"c":12},{"t":20.3,"c":11},{"t":20.6,"c":12},
{"t":15.04,"c":10},{"t":15.19,"c":10},{"t":15.34,"c":10},{"t":15.49,"c":10},{"t":15.64,"c":10},{"t":15.79,"c":10},{"t":15.94,"c":10},{"t":16.09,"c":10},{"t":16.24,"c":10},{"t":16.39,"c":10},{"t":16.69,"c":10},{"t":16.84,"c":10},{"t":16.99,"c":10},{"t":17.14,"c":10},{"t":17.29,"c":10},{"t":17.44,"c":10},{"t":17.59,"c":10},{"t":17.74,"c":10},{"t":18.04,"c":10},{"t":18.19,"c":10},{"t":18.34,"c":10},{"t":18.49,"c":10},{"t":18.64,"c":10},{"t":18.79,"c":10},{"t":18.94,"c":10},{"t":19.09,"c":10},{"t":19.24,"c":10},{"t":19.54,"c":10},{"t":19.69,"c":10},{"t":19.84,"c":10},{"t":19.97,"c":10},{"t":20.37,"c":10},{"t":20.5,"c":10},{"t":21.0,"c":10},
{"t":15.52,"c":9},{"t":15.67,"c":9},{"t":15.82,"c":9},{"t":15.97,"c":9},{"t":16.12,"c":9},{"t":16.27,"c":9},{"t":16.42,"c":9},{"t":16.57,"c":9},{"t":16.87,"c":9},{"t":17.02,"c":9},{"t":17.17,"c":9},{"t":17.32,"c":9},{"t":17.47,"c":9},{"t":17.62,"c":9},{"t":17.77,"c":9},{"t":17.92,"c":9},{"t":18.07,"c":9},{"t":18.22,"c":9},{"t":18.52,"c":9},{"t":18.67,"c":9},{"t":18.82,"c":9},{"t":18.97,"c":9},{"t":19.12,"c":9},{"t":19.27,"c":9},{"t":19.42,"c":9},{"t":19.57,"c":9},{"t":19.87,"c":9},{"t":20.02,"c":9},{"t":20.17,"c":9},{"t":20.32,"c":9},{"t":20.45,"c":9},{"t":20.88,"c":9},{"t":21.24,"c":9},{"t":22.28,"c":9},
{"t":15.6,"c":8},{"t":15.75,"c":8},{"t":15.9,"c":8},{"t":16.05,"c":8},{"t":16.2,"c":8},{"t":16.35,"c":8},{"t":16.5,"c":8},{"t":16.65,"c":8},{"t":16.8,"c":8},{"t":17.1,"c":8},{"t":17.25,"c":8},{"t":17.4,"c":8},{"t":17.55,"c":8},{"t":17.7,"c":8},{"t":17.85,"c":8},{"t":18.0,"c":8},{"t":18.15,"c":8},{"t":18.3,"c":8},{"t":18.45,"c":8},{"t":18.75,"c":8},{"t":18.9,"c":8},{"t":19.05,"c":8},{"t":19.2,"c":8},{"t":19.35,"c":8},{"t":19.5,"c":8},{"t":19.65,"c":8},{"t":19.8,"c":8},{"t":19.95,"c":8},{"t":20.1,"c":8},{"t":20.4,"c":8},{"t":20.55,"c":8},{"t":20.85,"c":8},{"t":21.0,"c":8},{"t":21.16,"c":8},{"t":22.04,"c":8},{"t":22.2,"c":8},
{"t":15.82,"c":7},{"t":15.97,"c":7},{"t":16.12,"c":7},{"t":16.27,"c":7},{"t":16.42,"c":7},{"t":16.57,"c":7},{"t":16.72,"c":7},{"t":16.87,"c":7},{"t":17.02,"c":7},{"t":17.17,"c":7},{"t":17.32,"c":7},{"t":17.62,"c":7},{"t":17.77,"c":7},{"t":17.92,"c":7},{"t":18.07,"c":7},{"t":18.22,"c":7},{"t":18.37,"c":7},{"t":18.52,"c":7},{"t":18.67,"c":7},{"t":18.82,"c":7},{"t":18.97,"c":7},{"t":19.12,"c":7},{"t":19.42,"c":7},{"t":19.57,"c":7},{"t":19.72,"c":7},{"t":19.87,"c":7},{"t":20.02,"c":7},{"t":20.17,"c":7},{"t":20.32,"c":7},{"t":20.47,"c":7},{"t":20.62,"c":7},{"t":20.92,"c":7},{"t":21.07,"c":7},{"t":21.16,"c":7},{"t":22.04,"c":7},{"t":23.07,"c":7},
{"t":15.75,"c":6},{"t":15.9,"c":6},{"t":16.05,"c":6},{"t":16.2,"c":6},{"t":16.31,"c":6},{"t":16.55,"c":6},{"t":16.7,"c":6},{"t":16.85,"c":6},{"t":17.0,"c":6},{"t":17.15,"c":6},{"t":17.3,"c":6},{"t":17.45,"c":6},{"t":17.75,"c":6},{"t":17.9,"c":6},{"t":18.05,"c":6},{"t":18.2,"c":6},{"t":18.35,"c":6},{"t":18.5,"c":6},{"t":18.65,"c":6},{"t":18.8,"c":6},{"t":18.95,"c":6},{"t":19.1,"c":6},{"t":19.25,"c":6},{"t":19.55,"c":6},{"t":19.7,"c":6},{"t":19.85,"c":6},{"t":20.0,"c":6},{"t":20.15,"c":6},{"t":20.3,"c":6},{"t":20.45,"c":6},{"t":20.6,"c":6},{"t":20.75,"c":6},{"t":20.9,"c":6},{"t":21.05,"c":6},{"t":21.2,"c":6},{"t":21.5,"c":6},{"t":21.65,"c":6},{"t":21.8,"c":6},{"t":21.88,"c":6},{"t":22.12,"c":6},{"t":22.28,"c":6},{"t":22.91,"c":6},{"t":23.63,"c":6},
{"t":16.23,"c":5},{"t":16.71,"c":5},{"t":16.91,"c":5},{"t":17.11,"c":5},{"t":17.27,"c":5},{"t":17.42,"c":5},{"t":17.57,"c":5},{"t":17.72,"c":5},{"t":17.87,"c":5},{"t":18.02,"c":5},{"t":18.17,"c":5},{"t":18.32,"c":5},{"t":18.47,"c":5},{"t":18.62,"c":5},{"t":18.77,"c":5},{"t":18.92,"c":5},{"t":19.07,"c":5},{"t":19.22,"c":5},{"t":19.37,"c":5},{"t":19.52,"c":5},{"t":19.67,"c":5},{"t":19.82,"c":5},{"t":19.97,"c":5},{"t":20.27,"c":5},{"t":20.42,"c":5},{"t":20.57,"c":5},{"t":20.72,"c":5},{"t":20.87,"c":5},{"t":21.02,"c":5},{"t":21.17,"c":5},{"t":21.32,"c":5},{"t":21.47,"c":5},{"t":21.62,"c":5},{"t":21.77,"c":5},{"t":21.92,"c":5},{"t":22.07,"c":5},{"t":22.22,"c":5},{"t":22.37,"c":5},{"t":22.52,"c":5},{"t":22.97,"c":5},{"t":23.12,"c":5},{"t":23.42,"c":5},{"t":23.57,"c":5},{"t":23.72,"c":5},{"t":23.87,"c":5},{"t":24.02,"c":5},{"t":24.11,"c":5},{"t":24.5,"c":5},{"t":24.66,"c":5},{"t":25.98,"c":5},
{"t":15.44,"c":4},{"t":16.66,"c":4},{"t":17.14,"c":4},{"t":17.29,"c":4},{"t":17.59,"c":4},{"t":17.74,"c":4},{"t":17.89,"c":4},{"t":18.04,"c":4},{"t":18.19,"c":4},{"t":18.34,"c":4},{"t":18.49,"c":4},{"t":18.64,"c":4},{"t":18.79,"c":4},{"t":18.94,"c":4},{"t":19.09,"c":4},{"t":19.24,"c":4},{"t":19.39,"c":4},{"t":19.54,"c":4},{"t":19.69,"c":4},{"t":19.84,"c":4},{"t":19.99,"c":4},{"t":20.14,"c":4},{"t":20.29,"c":4},{"t":20.44,"c":4},{"t":20.59,"c":4},{"t":20.74,"c":4},{"t":20.89,"c":4},{"t":21.04,"c":4},{"t":21.19,"c":4},{"t":21.34,"c":4},{"t":21.49,"c":4},{"t":21.64,"c":4},{"t":21.79,"c":4},{"t":21.94,"c":4},{"t":22.09,"c":4},{"t":22.24,"c":4},{"t":22.39,"c":4},{"t":22.69,"c":4},{"t":22.84,"c":4},{"t":22.99,"c":4},{"t":23.14,"c":4},{"t":23.44,"c":4},{"t":23.59,"c":4},{"t":23.74,"c":4},{"t":24.04,"c":4},{"t":24.19,"c":4},{"t":24.34,"c":4},{"t":24.49,"c":4},{"t":24.64,"c":4},{"t":24.74,"c":4},{"t":26.73,"c":4},
{"t":16.95,"c":3},{"t":17.1,"c":3},{"t":17.25,"c":3},{"t":17.5,"c":3},{"t":18.03,"c":3},{"t":18.18,"c":3},{"t":18.33,"c":3},{"t":18.48,"c":3},{"t":18.63,"c":3},{"t":18.78,"c":3},{"t":18.93,"c":3},{"t":19.08,"c":3},{"t":19.23,"c":3},{"t":19.38,"c":3},{"t":19.53,"c":3},{"t":19.68,"c":3},{"t":19.83,"c":3},{"t":19.98,"c":3},{"t":20.13,"c":3},{"t":20.28,"c":3},{"t":20.43,"c":3},{"t":20.58,"c":3},{"t":20.73,"c":3},{"t":20.88,"c":3},{"t":21.03,"c":3},{"t":21.18,"c":3},{"t":21.33,"c":3},{"t":21.48,"c":3},{"t":21.63,"c":3},{"t":21.78,"c":3},{"t":21.93,"c":3},{"t":22.08,"c":3},{"t":22.23,"c":3},{"t":22.38,"c":3},{"t":22.53,"c":3},{"t":22.68,"c":3},{"t":22.83,"c":3},{"t":22.98,"c":3},{"t":23.13,"c":3},{"t":23.28,"c":3},{"t":23.43,"c":3},{"t":23.58,"c":3},{"t":23.79,"c":3},{"t":23.97,"c":3},{"t":24.12,"c":3},{"t":24.27,"c":3},{"t":24.42,"c":3},{"t":24.57,"c":3},{"t":24.72,"c":3},{"t":24.87,"c":3},{"t":25.02,"c":3},{"t":25.17,"c":3},{"t":25.3,"c":3},{"t":25.54,"c":3},{"t":25.69,"c":3},{"t":25.84,"c":3},{"t":25.99,"c":3},{"t":26.14,"c":3},{"t":26.29,"c":3},{"t":26.41,"c":3},
{"t":17.66,"c":2},{"t":18.06,"c":2},{"t":18.2,"c":2},{"t":18.34,"c":2},{"t":18.5,"c":2},{"t":18.78,"c":2},{"t":18.92,"c":2},{"t":19.06,"c":2},{"t":19.2,"c":2},{"t":19.34,"c":2},{"t":19.48,"c":2},{"t":19.62,"c":2},{"t":19.77,"c":2},{"t":19.92,"c":2},{"t":20.07,"c":2},{"t":20.22,"c":2},{"t":20.37,"c":2},{"t":20.52,"c":2},{"t":20.67,"c":2},{"t":20.82,"c":2},{"t":20.97,"c":2},{"t":21.12,"c":2},{"t":21.27,"c":2},{"t":21.42,"c":2},{"t":21.57,"c":2},{"t":21.72,"c":2},{"t":21.87,"c":2},{"t":22.02,"c":2},{"t":22.17,"c":2},{"t":22.32,"c":2},{"t":22.47,"c":2},{"t":22.62,"c":2},{"t":22.77,"c":2},{"t":22.92,"c":2},{"t":23.07,"c":2},{"t":23.22,"c":2},{"t":23.37,"c":2},{"t":23.52,"c":2},{"t":23.67,"c":2},{"t":23.82,"c":2},{"t":23.97,"c":2},{"t":24.12,"c":2},{"t":24.27,"c":2},{"t":24.42,"c":2},{"t":24.57,"c":2},{"t":24.72,"c":2},{"t":24.87,"c":2},{"t":25.02,"c":2},{"t":25.17,"c":2},{"t":25.32,"c":2},{"t":25.47,"c":2},{"t":25.62,"c":2},{"t":25.77,"c":2},{"t":25.92,"c":2},{"t":26.07,"c":2},{"t":26.22,"c":2},{"t":26.37,"c":2},{"t":26.52,"c":2},{"t":26.67,"c":2},{"t":26.82,"c":2},{"t":26.94,"c":2}
],
"fits":[
{"s":"Lifetime component 1","t":-0.24,"c":380},{"s":"Lifetime component 1","t":-0.2,"c":1000},{"s":"Lifetime component 1","t":-0.15,"c":3000},{"s":"Lifetime component 1","t":-0.08,"c":8300},{"s":"Lifetime component 1","t":0.06,"c":11200},{"s":"Lifetime component 1","t":2.0,"c":1},
{"s":"Lifetime component 2","t":-0.22,"c":1000},{"s":"Lifetime component 2","t":-0.16,"c":4000},{"s":"Lifetime component 2","t":-0.08,"c":12000},{"s":"Lifetime component 2","t":0.0,"c":20000},{"s":"Lifetime component 2","t":0.11,"c":26000},{"s":"Lifetime component 2","t":4.14,"c":1},
{"s":"Lifetime component 3","t":-0.25,"c":35},{"s":"Lifetime component 3","t":-0.2,"c":150},{"s":"Lifetime component 3","t":-0.16,"c":340},{"s":"Lifetime component 3","t":-0.08,"c":690},{"s":"Lifetime component 3","t":0.05,"c":1000},{"s":"Lifetime component 3","t":0.19,"c":1120},{"s":"Lifetime component 3","t":10.85,"c":1},
{"s":"Lifetime component 4","t":-0.25,"c":55},{"s":"Lifetime component 4","t":-0.16,"c":165},{"s":"Lifetime component 4","t":-0.05,"c":700},{"s":"Lifetime component 4","t":0.05,"c":1400},{"s":"Lifetime component 4","t":0.19,"c":2000},{"s":"Lifetime component 4","t":21.57,"c":2.5}
]
},
"resolve":{"axis":{"x":"independent","y":"independent"}},
"layer":[
{"data":{"values":[{"t":0}]},
 "mark":{"type":"rule","color":"#c6c6c6","strokeWidth":1.5},
 "encoding":{"x":{"field":"t","type":"quantitative","scale":{"domain":[-1.86,27.0],"nice":false,"zero":false},"axis":null}}},
{"data":{"name":"pts"},
 "mark":{"type":"circle","size":14,"opacity":1},
 "encoding":{
  "x":{"field":"t","type":"quantitative","scale":{"domain":[-1.86,27.0],"nice":false,"zero":false},
   "axis":{"orient":"bottom","values":[-1,0,1,2,3,4,5,6,7,8,9,10,11,12,13,14,15,16,17,18,19,20,21,22,23,24,25,26],
    "labelExpr":"datum.value % 5 === 0 ? datum.label : ''","labelOverlap":false,"labelFlush":false,
    "grid":true,"gridColor":"#b8b8b8","gridDash":[1,3],"gridWidth":1,
    "gridOpacity":{"condition":{"test":"datum.value % 5 === 0 && datum.value !== 0","value":1},"value":0},
    "tickSize":{"condition":{"test":"datum.value % 5 === 0","value":-6},"value":-3},
    "tickColor":"#444","tickWidth":1.3,"domain":false,
    "labelFont":"Liberation Sans","labelFontSize":19.5,"labelColor":"#222","labelPadding":15.4,
    "title":"Time / ns","titleFont":"Liberation Sans","titleFontSize":28,"titleFontWeight":"normal","titleColor":"#111","titlePadding":7}},
  "y":{"field":"c","type":"quantitative","scale":{"type":"log","domain":[1,100000],"nice":false},
   "axis":{"orient":"left","values":[1,2,3,4,5,6,7,8,9,10,20,30,40,50,60,70,80,90,100,200,300,400,500,600,700,800,900,1000,2000,3000,4000,5000,6000,7000,8000,9000,10000,20000,30000,40000,50000,60000,70000,80000,90000,100000],
    "labelExpr":"datum.value === 1 ? '10⁰' : datum.value === 10 ? '10¹' : datum.value === 100 ? '10²' : datum.value === 1000 ? '10³' : datum.value === 10000 ? '10⁴' : datum.value === 100000 ? '10⁵' : ''",
    "labelOverlap":false,"labelFlush":false,
    "grid":true,"gridColor":"#b8b8b8","gridDash":[1,3],"gridWidth":1,
    "gridOpacity":{"condition":{"test":"indexof([10,100,1000,10000], datum.value) >= 0","value":1},"value":0},
    "tickSize":{"condition":{"test":"indexof([1,10,100,1000,10000,100000], datum.value) >= 0","value":-6},"value":-3},
    "tickColor":"#444","tickWidth":1.3,"domain":false,
    "labelFont":"Liberation Sans","labelFontSize":19.5,"labelColor":"#222","labelPadding":15,
    "title":"Counts per channel (3 ps)","titleFont":"Liberation Sans","titleFontSize":28,"titleFontWeight":"normal","titleColor":"#111","titlePadding":6}},
  "color":{"datum":"Measured data","type":"nominal",
   "scale":{"domain":["Measured data","Lifetime component 1","Lifetime component 2","Lifetime component 3","Lifetime component 4"],"range":["#0d5a9c","#ff0000","#10e010","#1414dc","#00eeee"]},
   "legend":{"title":"Cu-Tape at 0.5 keV:","orient":"none","legendX":344,"legendY":15,
    "fillColor":"white","strokeColor":"#333","padding":9,
    "titleFont":"Liberation Sans","titleFontSize":18.5,"titleFontWeight":"normal","titleColor":"#111","titleAnchor":"middle","titlePadding":10,"titleLimit":0,
    "labelFont":"Liberation Sans","labelFontSize":19,"labelColor":"#111","labelOffset":6,"labelLimit":0,
    "symbolSize":1444,"symbolStrokeWidth":3,"clipHeight":22,"rowPadding":4.25,"symbolOffset":0,
    "encoding":{"symbols":{
     "shape":{"condition":{"test":"datum.value === 'Measured data'","value":"M-0.03,0A0.03,0.03,0,1,1,0.03,0A0.03,0.03,0,1,1,-0.03,0Z"},"value":"stroke"},
     "fill":{"condition":{"test":"datum.value === 'Measured data'","value":"#0d5a9c"},"value":"transparent"},
     "opacity":{"value":1}}}}}
 }},
{"data":{"name":"fits"},
 "mark":{"type":"line","strokeWidth":3,"clip":true},
 "encoding":{
  "x":{"field":"t","type":"quantitative","scale":{"domain":[-1.86,27.0],"nice":false,"zero":false},
   "axis":{"orient":"top","values":[-1,0,1,2,3,4,5,6,7,8,9,10,11,12,13,14,15,16,17,18,19,20,21,22,23,24,25,26],"labels":false,"grid":false,"domain":false,"title":null,
    "tickSize":{"condition":{"test":"datum.value % 5 === 0","value":-6},"value":-3},"tickColor":"#444","tickWidth":1.3}},
  "y":{"field":"c","type":"quantitative","scale":{"type":"log","domain":[1,100000],"nice":false},"axis":null},
  "color":{"field":"s","type":"nominal","scale":{"domain":["Measured data","Lifetime component 1","Lifetime component 2","Lifetime component 3","Lifetime component 4"],"range":["#0d5a9c","#ff0000","#10e010","#1414dc","#00eeee"]}}
 }}
]
}
